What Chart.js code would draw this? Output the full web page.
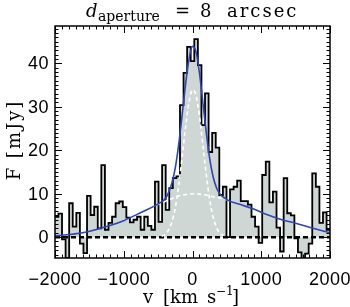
<!DOCTYPE html>
<html>
<head>
<meta charset="utf-8">
<script src="https://cdn.jsdelivr.net/npm/chart.js@4.4.1/dist/chart.umd.min.js"></script>
<style>
  html, body { margin: 0; padding: 0; background: #fff; }
  #wrap { width: 350px; height: 307px; }
</style>
</head>
<body>
<div id="wrap"><canvas id="spec" width="350" height="307"></canvas></div>
<script>
// spectrum channels (km/s)
const binStart = -2002;
const binWidth = 52;
const fluxHist = [
	4.7, 5.4, -0.5, -4.8, 7.8, 2.4, 5.6, -1.5, -3.7, 9.5,
	5.1, 7.0, 2.0, 16.6, 1.7, 3.3, 4.7, 7.8, 8.2, 6.9,
	4.5, 3.4, 4.0, 4.7, 1.7, 4.7, 2.6, 1.7, 12.8, 3.5,
	16.6, 6.3, 11.3, 13.6, 14.0, 30.4, 37.8, 43.8, 40.5, 45.6,
	39.6, 25.8, 33.1, 19.6, 24.0, 20.6, 9.7, 11.6, 0.0, 11.0,
	11.6, 13.0, 8.3, 8.3, 7.5, 4.7, 2.4, -1.3, 14.3, 17.4,
	8.0, 10.5, 2.2, -3.3, 13.6, 5.5, 5.0, -0.3, -3.5, -5.0,
	-3.8, -1.5, 14.7, 11.6, 3.3, 5.7, 1.7
];

// total fit (blue)
const fitVel = [-2000, -1600, -1200, -1000, -800, -600, -450, -400, -350, -300, -250, -200, -150, -100, -50,
	0, 50, 100, 150, 200, 250, 300, 350, 400, 450, 500, 700, 900, 1100, 1300, 1500, 1700, 2000];
const fitTotal = [0.3, 1.0, 2.7, 3.8, 5.3, 6.8, 8.1, 8.8, 10.2, 12.4, 16, 21.4, 28.2, 35.3, 41.1,
	43.9, 42.7, 37.9, 31.1, 24.1, 18.1, 13.9, 11.3, 9.9, 9.2, 8.6, 7.5, 6.4, 5.1, 4.0, 3.2, 2.3, 1.0];

// narrow component (white dashed)
const narrowVel = [-450, -400, -350, -300, -250, -200, -150, -100, -50, 0, 50, 100, 150, 200, 250, 300, 350, 400, 450];
const narrowFlux = [0.2, 0.6, 1.6, 3.5, 6.8, 11.9, 18.5, 25.5, 31.2, 33.9, 32.7, 28, 21.3, 14.4, 8.6, 4.6, 2.2, 0.9, 0.35];

// broad component (white dashed)
const broadVel = [-700, -600, -450, -400, -350, -300, -250, -200, -150, -100, -50, 0, 50, 100, 150, 200, 250, 300, 350, 400, 450, 500, 600];
const broadFlux = [6.1, 6.8, 7.9, 8.2, 8.6, 8.9, 9.2, 9.5, 9.7, 9.8, 9.9, 10, 10, 9.9, 9.8, 9.7, 9.5, 9.3, 9.1, 9.0, 8.8, 8.6, 8.1];

const xTicks = [-2000, -1000, 0, 1000, 2000];
const yTicks = [0, 10, 20, 30, 40];
const xMinorStep = 100;
const yMinorStep = 1;

// step histogram points: left edge of each channel + closing right edge
const histPoints = fluxHist.map((f, i) => ({ x: binStart + i * binWidth, y: f }));
histPoints.push({ x: binStart + fluxHist.length * binWidth, y: fluxHist[fluxHist.length - 1] });

const toPts = (xs, ys) => xs.map((v, i) => ({ x: v, y: ys[i] }));

const fmtTick = v => (v < 0 ? '\u2212' : '') + Math.abs(v);

function spacing(ctx, px) {
	if ('letterSpacing' in ctx) ctx.letterSpacing = px + 'px';
}

// frame, inward ticks, tick labels and titles
const decor = {
	id: 'decor',
	afterDatasetsDraw(chart) {
		const { ctx, chartArea: a, scales } = chart;
		const x = scales.x, y = scales.y;
		ctx.save();
		ctx.strokeStyle = '#000';
		ctx.lineWidth = 1;
		ctx.beginPath();
		for (let v = x.min; v <= x.max; v += xMinorStep) {
			const px = Math.round(x.getPixelForValue(v)) + 0.5;
			const len = xTicks.includes(v) ? 7 : 3.5;
			ctx.moveTo(px, a.bottom); ctx.lineTo(px, a.bottom - len);
			ctx.moveTo(px, a.top); ctx.lineTo(px, a.top + len);
		}
		for (let v = Math.ceil(y.min); v <= y.max; v += yMinorStep) {
			const py = Math.round(y.getPixelForValue(v)) + 0.5;
			const len = yTicks.includes(v) ? 7 : 3.5;
			ctx.moveTo(a.left, py); ctx.lineTo(a.left + len, py);
			ctx.moveTo(a.right, py); ctx.lineTo(a.right - len, py);
		}
		ctx.stroke();
		ctx.lineWidth = 1.5;
		ctx.strokeRect(a.left, a.top, a.right - a.left, a.bottom - a.top);

		// tick labels
		ctx.fillStyle = '#000';
		ctx.font = '18px "Liberation Sans"';
		spacing(ctx, 0.5);
		ctx.textAlign = 'center';
		ctx.textBaseline = 'alphabetic';
		xTicks.forEach(v => ctx.fillText(fmtTick(v), x.getPixelForValue(v), a.bottom + 27));
		ctx.textAlign = 'right';
		ctx.textBaseline = 'middle';
		yTicks.forEach(v => ctx.fillText(fmtTick(v), a.left - 6, y.getPixelForValue(v) + 1));
		ctx.restore();
	},
	afterDraw(chart) {
		const ctx = chart.ctx;
		ctx.save();
		ctx.fillStyle = '#000';
		ctx.textBaseline = 'alphabetic';
		ctx.textAlign = 'left';
		// title
		spacing(ctx, 2);
		ctx.font = 'italic 18px "DejaVu Serif"';
		ctx.fillText('d', 86, 17);
		spacing(ctx, 0);
		ctx.font = '14px "DejaVu Serif"';
		ctx.fillText('aperture', 98, 21);
		ctx.font = '18px "DejaVu Serif"';
		ctx.fillText('=', 175, 17);
		ctx.fillText('8', 200, 17);
		spacing(ctx, 2);
		ctx.fillText('arcsec', 227, 17);
		// x title
		spacing(ctx, 0);
		ctx.fillText('v', 143, 303);
		ctx.fillText('[km', 163, 303);
		ctx.fillText('s', 207, 303);
		ctx.font = '12px "DejaVu Serif"';
		ctx.fillText('\u22121', 216, 295);
		ctx.font = '18px "DejaVu Serif"';
		ctx.fillText(']', 232, 303);
		// y title
		ctx.translate(20, 140);
		ctx.rotate(-Math.PI / 2);
		ctx.textAlign = 'center';
		spacing(ctx, 2);
		ctx.fillText('F [mJy]', 0, 0);
		ctx.restore();
	}
};

const chart = new Chart(document.getElementById('spec'), {
	type: 'line',
	data: {
		datasets: [
			{
				label: 'total fit',
				data: toPts(fitVel, fitTotal),
				borderColor: 'rgb(45, 70, 180)',
				borderWidth: 1.6,
				pointRadius: 0,
				cubicInterpolationMode: 'monotone',
				fill: false,
				order: 0
			},
			{
				label: 'narrow',
				data: toPts(narrowVel, narrowFlux),
				borderColor: '#ffffff',
				borderWidth: 1.6,
				borderDash: [4, 3],
				pointRadius: 0,
				cubicInterpolationMode: 'monotone',
				fill: false,
				order: 1
			},
			{
				label: 'broad',
				data: toPts(broadVel, broadFlux),
				borderColor: '#ffffff',
				borderWidth: 1.6,
				borderDash: [4, 3],
				pointRadius: 0,
				cubicInterpolationMode: 'monotone',
				fill: false,
				order: 2
			},
			{
				label: 'zero',
				data: [{ x: -2000, y: 0 }, { x: 2000, y: 0 }],
				borderColor: '#000',
				borderWidth: 2.5,
				borderDash: [5, 3],
				pointRadius: 0,
				fill: false,
				order: 3
			},
			{
				label: 'spectrum',
				data: histPoints,
				stepped: true,
				borderColor: '#000',
				borderWidth: 1.8,
				backgroundColor: 'rgb(207, 215, 213)',
				pointRadius: 0,
				fill: 'origin',
				order: 4
			}
		]
	},
	options: {
		responsive: false,
		animation: false,
		devicePixelRatio: 1,
		layout: { padding: { top: 26, right: 20, left: 55, bottom: 49 } },
		plugins: {
			legend: { display: false },
			tooltip: { enabled: false },
			title: { display: false }
		},
		scales: {
			x: { type: 'linear', display: false, min: -2000, max: 2000 },
			y: { type: 'linear', display: false, min: -4.8, max: 48.6 }
		}
	},
	plugins: [decor]
});
</script>
</body>
</html>
